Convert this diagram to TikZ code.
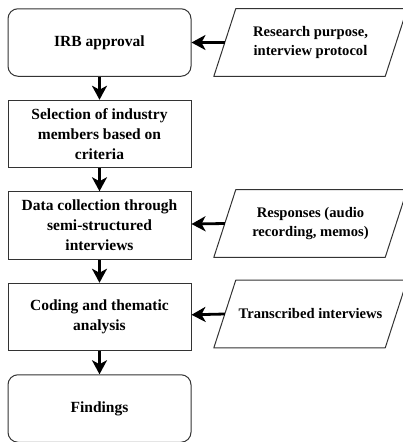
\documentclass[tikz,border=0pt]{standalone}
\usepackage{fontspec}
\setmainfont{Liberation Serif}
\usetikzlibrary{positioning,arrows.meta}

\begin{document}
\begin{tikzpicture}[x=1pt, y=-1pt, node distance=23pt,
    every node/.style={font=\fontsize{15.5}{20}\selectfont\bfseries, align=center},
    stepbox/.style={draw=black!80, line width=1pt, minimum width=183pt, minimum height=67.5pt},
    endbox/.style={stepbox, rounded corners=10pt},
    databox/.style={inner sep=0pt, minimum width=193pt, minimum height=67.5pt, font=\fontsize{14.6}{19.5}\selectfont\bfseries},
    dataline/.style={draw=black!80, line width=1pt, line join=round},
    flow/.style={-{Stealth[length=14pt,width=15pt,inset=4pt]}, line width=2.8pt}]
\useasboundingbox (0,0) rectangle (403,442);
\node[endbox] (irb) at (99.5,42.5) {IRB approval};
\node[stepbox, below=of irb] (select) {Selection of industry\\members based on\\criteria};
\node[stepbox, below=of select] (collect) {Data collection through\\semi-structured\\interviews};
\node[stepbox, below=of collect] (coding) {Coding and thematic\\analysis};
\node[endbox, below=of coding] (findings) {Findings};
% input data
\node[databox] (purpose) at (310.5,42.5) {Research purpose,\\interview protocol};
\node[databox] (responses) at (310.5,223.5) {Responses (audio\\recording, memos)};
\node[databox] (transcribed) at (310.5,314) {Transcribed interviews};
\foreach \d in {purpose,responses,transcribed}
  \draw[dataline] ([xshift=22pt]\d.north west) -- (\d.north east) -- ([xshift=-22pt]\d.south east) -- (\d.south west) -- cycle;
\draw[flow] (irb) -- (select);
\draw[flow] (select) -- (collect);
\draw[flow] (collect) -- (coding);
\draw[flow] (coding) -- (findings);
\draw[flow] ([xshift=11pt]purpose.west) -- (irb);
\draw[flow] ([xshift=11pt]responses.west) -- (collect);
\draw[flow] ([xshift=11pt]transcribed.west) -- (coding);
\end{tikzpicture}
\end{document}
